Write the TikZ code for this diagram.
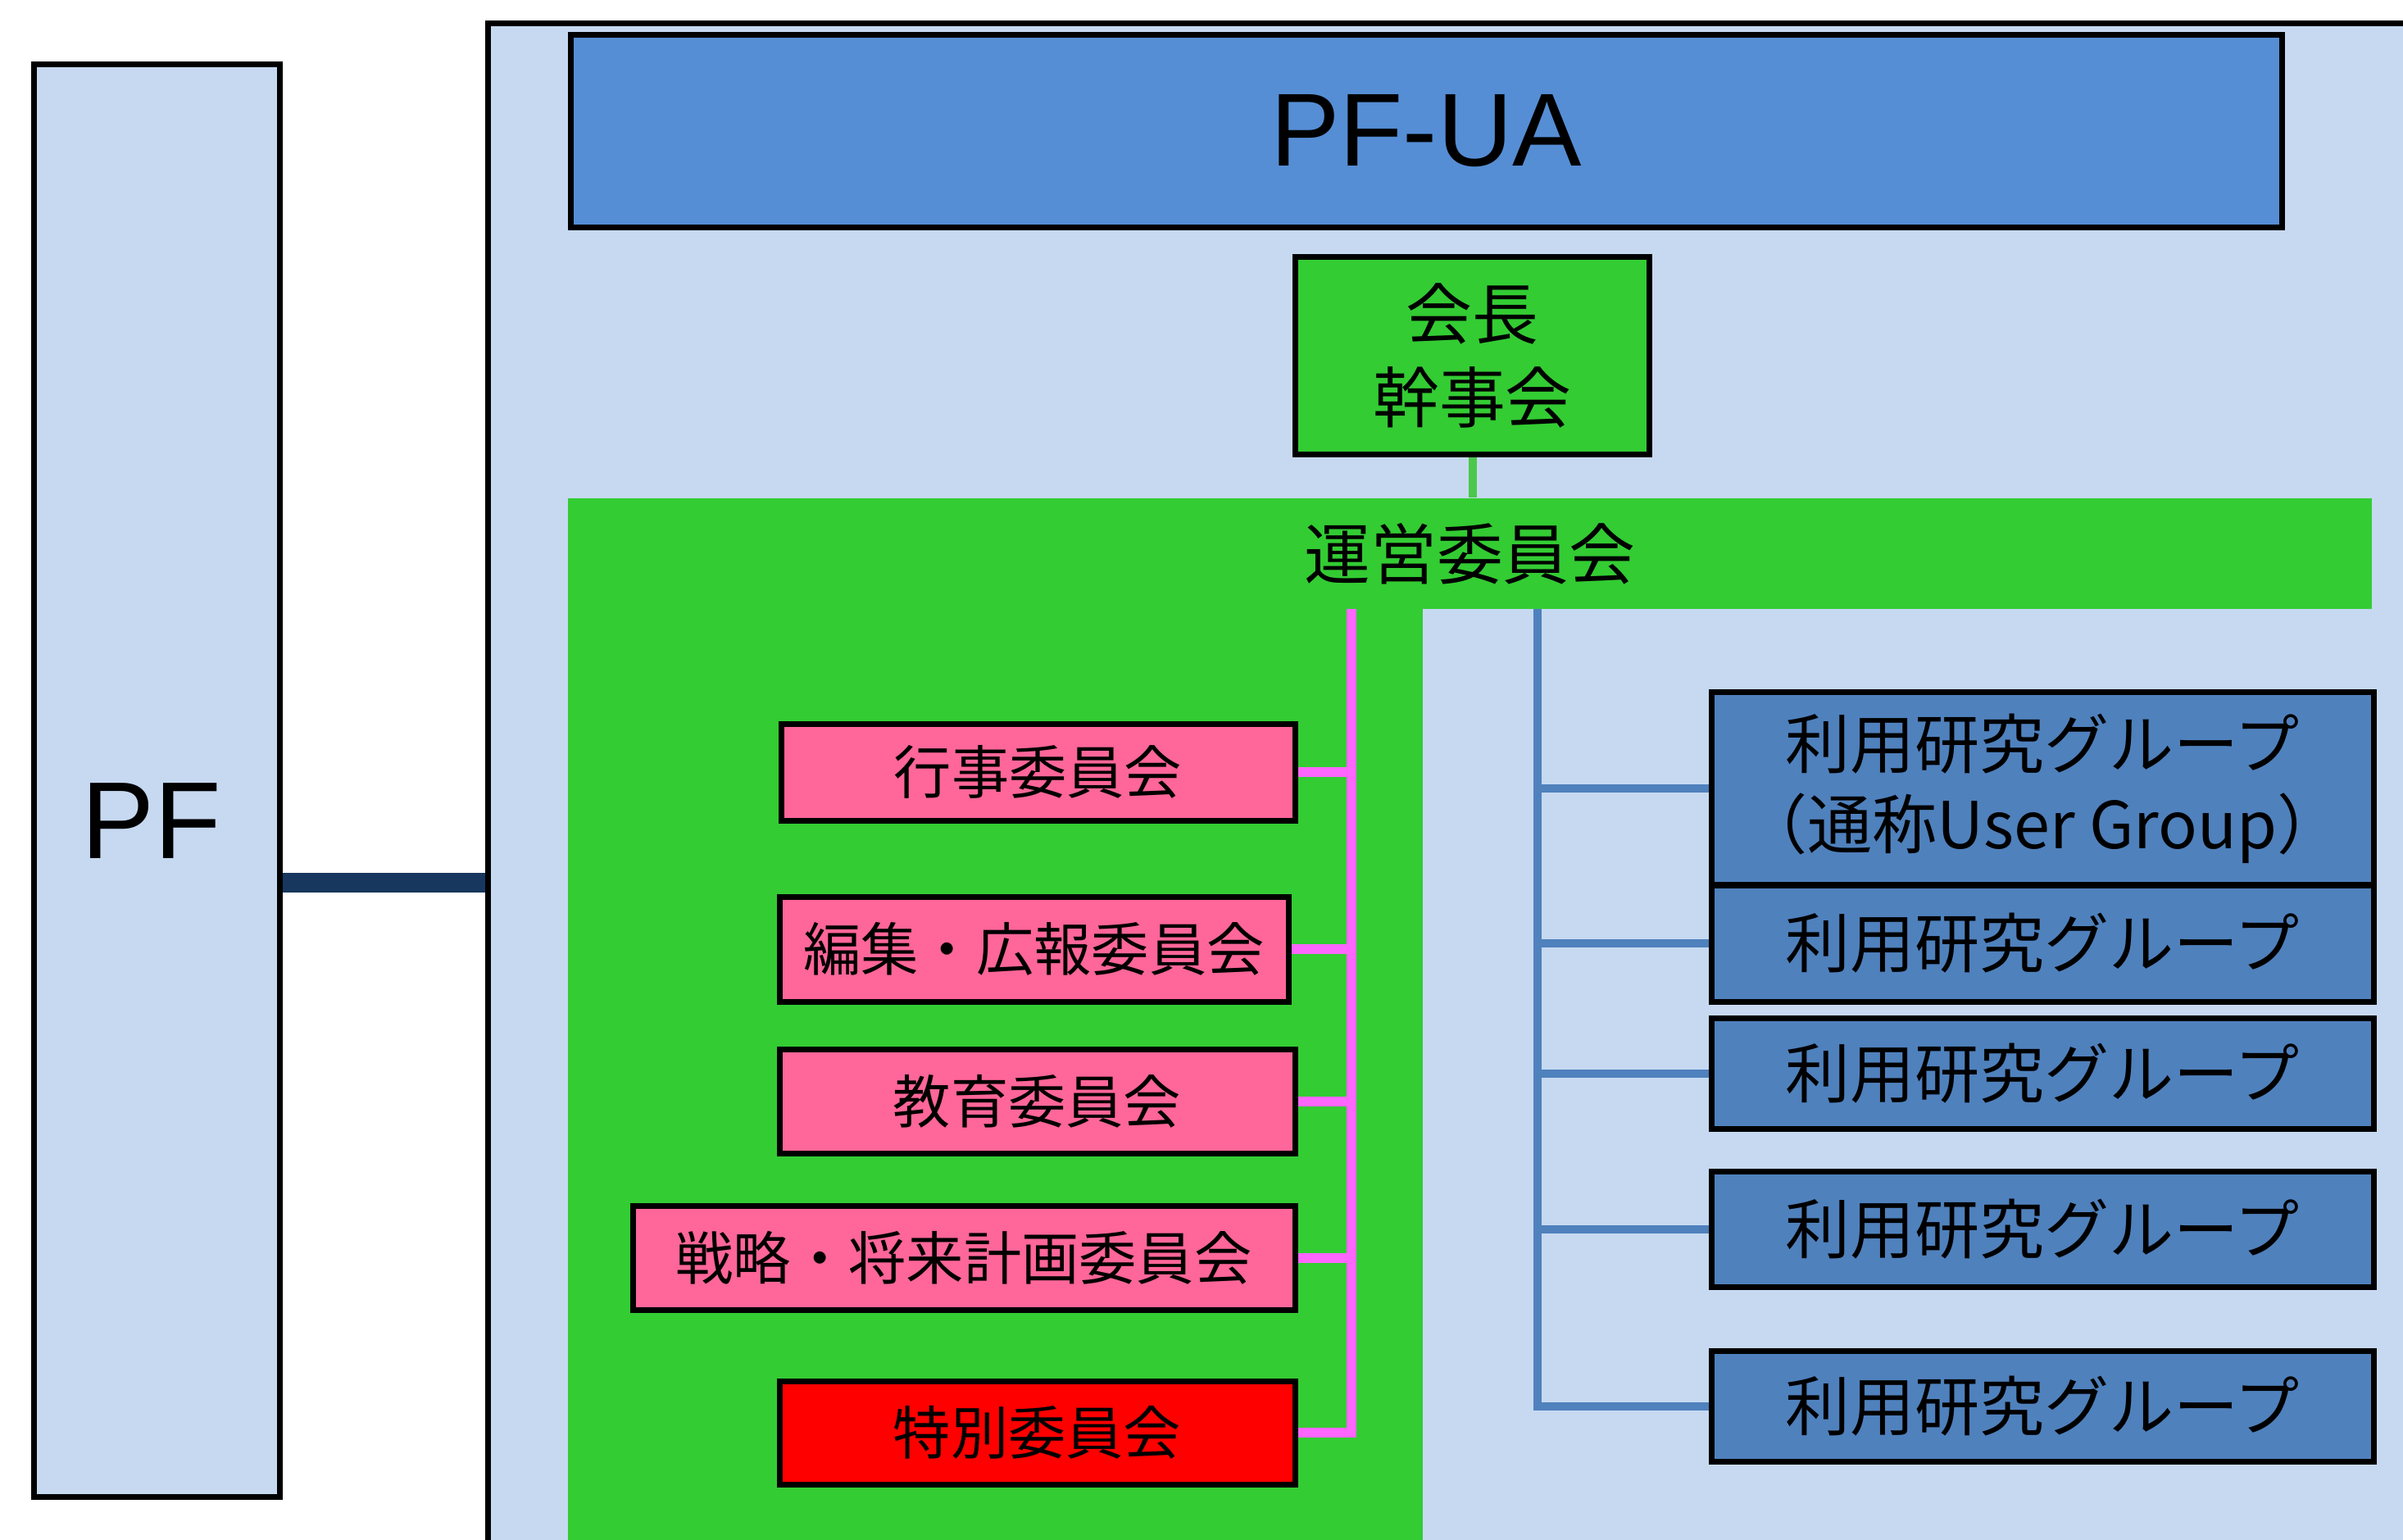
\documentclass[tikz,border=0pt]{standalone}
\usepackage{fontspec}
\setmainfont{Liberation Sans}
\newfontfamily\jp{Noto Sans CJK JP}
\usetikzlibrary{calc}
\definecolor{uabg}{RGB}{198,217,241}
\definecolor{uahead}{RGB}{85,142,213}
\definecolor{uagreen}{RGB}{51,204,51}
\definecolor{linkgreen}{RGB}{75,200,75}
\definecolor{compink}{RGB}{255,102,153}
\definecolor{spinepink}{RGB}{255,102,255}
\definecolor{groupblue}{RGB}{79,129,189}
\definecolor{pfnavy}{RGB}{23,55,94}
\tikzset{
	frame/.style={draw=black, line width=0.07cm},
	box/.style={frame, inner sep=0pt, align=center},
	combox/.style={box, fill=compink, font=\jp\fontsize{20}{24}\selectfont},
	grpbox/.style={box, fill=groupblue, minimum width=8.08cm, font=\jp\fontsize{22.5}{28}\selectfont},
	pinkline/.style={draw=spinepink, line width=0.12cm},
	blueline/.style={draw=groupblue, line width=0.1cm},
}

\begin{document}
\begin{tikzpicture}
			%%%%% START %%%%%
			\useasboundingbox (0,0) rectangle (29.32,-18.79);
			
			% PF
			\node[frame, fill=uabg, minimum width=3.00cm, minimum height=17.48cm] (pf) at (1.91,-9.52) {};
			\node[font=\fontsize{38}{38}\selectfont] (pflabel) at (1.85,-10.02) {PF};
			
			% PF-UA
			\fill[uabg] (5.955,-0.285) rectangle (29.32,-18.79);
			\coordinate (ua) at (5.955,-10.77);
			\draw[pfnavy, line width=0.24cm] (pf.east |- ua) -- (ua);
			\draw[frame] (29.32,-0.285) -- (5.955,-0.285) -- (5.955,-18.79);
			
			\node[frame, fill=uahead, minimum width=20.88cm, minimum height=2.345cm, font=\fontsize{36}{36}\selectfont] (head) at (17.40,-1.60) {PF-UA};
			
			\node[box, fill=uagreen, minimum width=4.32cm, minimum height=2.41cm, font=\jp\fontsize{23}{29}\selectfont] (kaicho) at (17.965,-4.335) {会長\\幹事会};
			
			% 運営委員会
			\fill[uagreen] (6.93,-6.08) rectangle (17.36,-18.79);
			\node[fill=uagreen, minimum width=22.01cm, minimum height=1.35cm, inner sep=0pt, font=\jp\fontsize{23}{29}\selectfont] (unyo) at (17.935,-6.755) {運営委員会};
			\draw[linkgreen, line width=0.1cm] (kaicho.south) -- (kaicho.south |- unyo.north);
			
			% committees
			\node[combox, minimum width=6.27cm, minimum height=1.18cm] (gyoji) at (12.665,-9.42) {行事委員会};
			\node[combox, minimum width=6.21cm, minimum height=1.28cm] (henshu) at (12.615,-11.58) {編集・広報委員会};
			\node[combox, minimum width=6.29cm, minimum height=1.27cm] (kyoiku) at (12.655,-13.44) {教育委員会};
			\node[combox, minimum width=8.08cm, minimum height=1.27cm] (senryaku) at (11.76,-15.35) {戦略・将来計画委員会};
			\node[combox, fill=red, minimum width=6.29cm, minimum height=1.26cm] (tokubetsu) at (12.655,-17.48) {特別委員会};
			
			\coordinate (pspine) at (16.49,-7.43);
			\draw[pinkline] (pspine) |- (tokubetsu.east);
			\foreach \c in {gyoji,henshu,kyoiku,senryaku}
				\draw[pinkline] (\c.east) -- (\c.east -| pspine);
			
			% user groups
			\node[grpbox, minimum height=2.35cm] (g1) at (24.92,-9.62) {利用研究グループ\\（通称User Group）};
			\node[grpbox, minimum height=1.42cm] (g2) at (24.92,-11.51) {利用研究グループ};
			\node[grpbox, minimum height=1.35cm] (g3) at (24.92,-13.10) {利用研究グループ};
			\node[grpbox, minimum height=1.41cm] (g4) at (24.92,-14.995) {利用研究グループ};
			\node[grpbox, minimum height=1.35cm] (g5) at (24.92,-17.155) {利用研究グループ};
			
			\coordinate (bspine) at (18.76,-7.43);
			\draw[blueline] (bspine) |- (g5.west);
			\foreach \g in {g1,g2,g3,g4}
				\draw[blueline] (\g.west -| bspine) -- (\g.west);
			
			%%%%% END %%%%%
\end{tikzpicture}
\end{document}
